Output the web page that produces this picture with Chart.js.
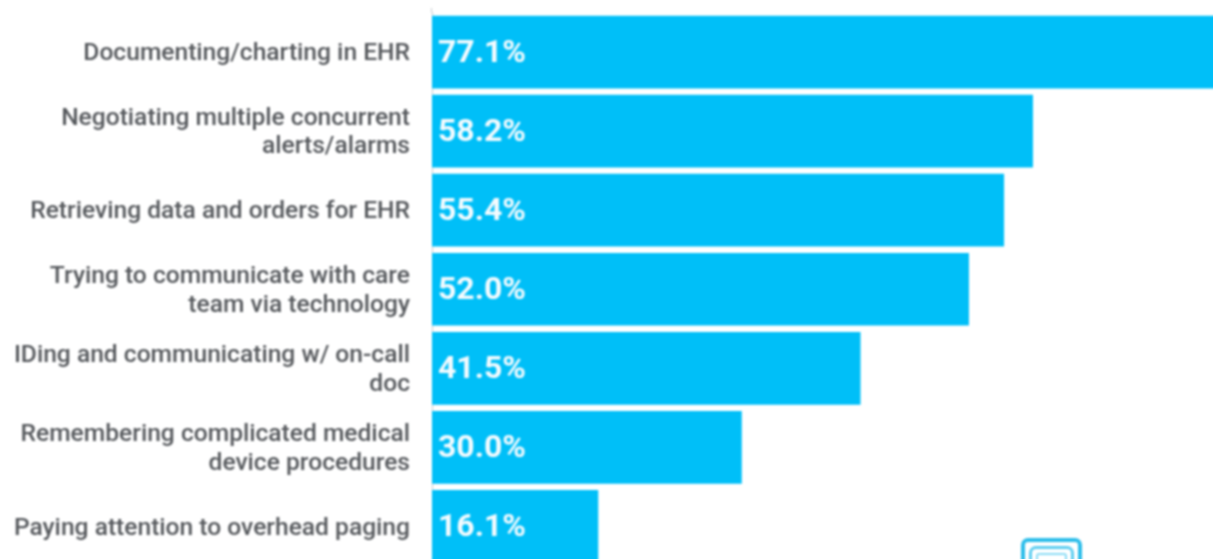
<!DOCTYPE html>
<html>
<head>
<meta charset="utf-8">
<title>EHR tasks</title>
<script src="https://cdn.jsdelivr.net/npm/chart.js@4/dist/chart.umd.min.js"></script>
<style>
    html, body { margin: 0; padding: 0; background: #fff; width: 1213px; height: 559px; overflow: hidden; }
    #wrap { position: relative; width: 1213px; height: 559px; overflow: hidden; }
    #chart { position: absolute; left: 0; top: 0; filter: blur(0.8px); }
    /* logo peeking in at the bottom edge */
    .logo { position: absolute; box-sizing: border-box; border: 4px solid #2bbdea; border-radius: 7px; filter: blur(0.8px); }
</style>
</head>
<body>
<div id="wrap">
    <!-- canvas is a bit wider than the window so the blur leaves no pale edge on the top bar -->
    <canvas id="chart" width="1223" height="566"></canvas>
    <div class="logo" style="left:1021px; top:538px; width:61px; height:60px;"></div>
    <div class="logo" style="left:1029px; top:546px; width:45px; height:44px; border-width:3px; border-color:#5ccdf0;"></div>
    <div class="logo" style="left:1036px; top:553px; width:31px; height:30px; border-width:2px; border-color:#8adcf5; border-radius:3px;"></div>
</div>
<script>
const categories = [
    'Documenting/charting in EHR',
    ['Negotiating multiple concurrent', 'alerts/alarms'],
    'Retrieving data and orders for EHR',
    ['Trying to communicate with care', 'team via technology'],
    ['IDing and communicating w/ on-call', 'doc'],
    ['Remembering complicated medical', 'device procedures'],
    'Paying attention to overhead paging'
];
const percentages = [77.1, 58.2, 55.4, 52.0, 41.5, 30.0, 16.1];

// Top bar runs off the right edge in the picture, so the axis stops short of it
const xAxisMax = 76.6;

// Writes the percentage inside each bar, left aligned
const barValueLabels = {
    id: 'barValueLabels',
    afterDatasetsDraw(chart) {
        const { ctx } = chart;
        const bars = chart.getDatasetMeta(0).data;
        ctx.save();
        ctx.font = '700 32px Roboto';
        ctx.fillStyle = '#f4fbfe';
        ctx.textAlign = 'left';
        ctx.textBaseline = 'middle';
        bars.forEach((bar, i) => {
            ctx.fillText(percentages[i].toFixed(1) + '%', bar.base + 6, bar.y + 2);
        });
        ctx.restore();
    }
};

// Axis line sticks out a little above the first bar
const axisStub = {
    id: 'axisStub',
    afterDraw(chart) {
        const { ctx, chartArea } = chart;
        ctx.save();
        ctx.strokeStyle = '#c9ced2';
        ctx.lineWidth = 1;
        ctx.beginPath();
        ctx.moveTo(chartArea.left - 0.5, 8);
        ctx.lineTo(chartArea.left - 0.5, chartArea.top);
        ctx.stroke();
        ctx.restore();
    }
};

new Chart(document.getElementById('chart').getContext('2d'), {
    type: 'bar',
    data: {
        labels: categories,
        datasets: [{
            data: percentages,
            backgroundColor: '#00bff8',
            barPercentage: 0.92,
            categoryPercentage: 1
        }]
    },
    options: {
        indexAxis: 'y',
        responsive: false,
        animation: false,
        layout: { padding: { top: 12.5, bottom: 0, left: 0, right: 0 } },
        plugins: { legend: { display: false }, tooltip: { enabled: false } },
        scales: {
            x: { display: false, min: 0, max: xAxisMax },
            y: {
                afterFit(scale) {
                    scale.width = 432;
                    // tall labels would otherwise push the plot area inwards
                    scale.paddingTop = 0;
                    scale.paddingBottom = 0;
                    // labels sit 2px below the bar centre
                    scale.getPixelForTick = function (index) {
                        return Object.getPrototypeOf(this).getPixelForTick.call(this, index) + 2;
                    };
                },
                grid: { display: false, drawTicks: false },
                border: { display: true, color: '#c9ced2' },
                ticks: {
                    autoSkip: false,
                    padding: 22,
                    color: '#55585c',
                    font: { family: 'Roboto', size: 24.6, weight: '500', lineHeight: 1.15 }
                }
            }
        }
    },
    plugins: [barValueLabels, axisStub]
});
</script>
</body>
</html>
